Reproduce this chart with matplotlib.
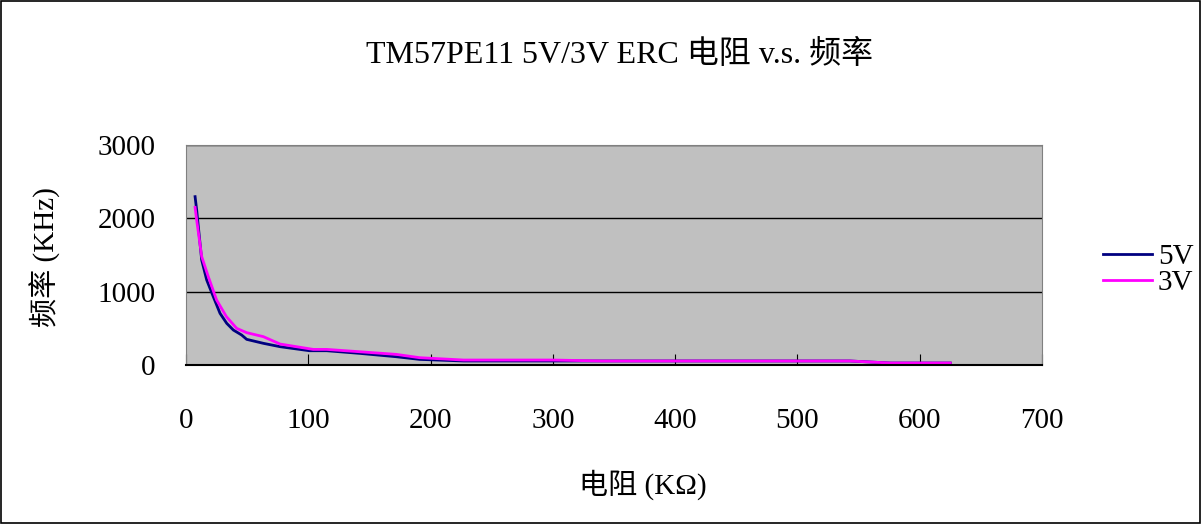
import matplotlib
matplotlib.use("Agg")
import matplotlib.pyplot as plt
from matplotlib.patches import Rectangle

plt.rcParams['font.family'] = ['Liberation Serif', 'Noto Sans CJK SC']

# resistance (K-ohm) vs frequency (KHz)
r_5v = [7.4, 8.7, 12.8, 16.9, 22.3, 27.8, 33.3, 38.7, 45.5, 49.6, 63.2, 76.9,
        101, 115, 142, 172, 191, 227, 300, 400, 500, 543, 576, 625]
f_5v = [2296, 2114, 1432, 1160, 932, 705, 568, 477, 409, 350, 296, 250,
        195, 195, 159, 113, 77, 55, 55, 55, 55, 55, 27, 27]

r_3v = [7.4, 8.7, 12.8, 18.2, 25, 33, 41.4, 49.6, 63.2, 76.9,
        104, 115, 142, 172, 191, 227, 300, 340, 400, 500, 543, 576, 625]
f_3v = [2150, 1978, 1480, 1205, 887, 660, 500, 441, 387, 286,
        213, 213, 181, 145, 100, 68, 68, 55, 55, 55, 55, 27, 27]

x_ticks = [0, 100, 200, 300, 400, 500, 600, 700]
y_ticks = [0, 1000, 2000, 3000]

fs = 21

fig = plt.figure(figsize=(12.01, 5.24), dpi=100)
fig.patches.append(Rectangle((0.0008, 0.001), 0.998, 0.997, transform=fig.transFigure,
                             fill=False, edgecolor='black', linewidth=1.2))

ax = fig.add_axes([0.1549, 0.3034, 0.7127, 0.4198])
ax.set_facecolor('#C0C0C0')

l5, = ax.plot(r_5v, f_5v, color='#000080', linewidth=2, label='5V')
l3, = ax.plot(r_3v, f_3v, color='#FF00FF', linewidth=2, label='3V')

ax.set_xlim(0, 700)
ax.set_ylim(0, 3000)
ax.set_xticks(x_ticks)
ax.set_yticks(y_ticks)
ax.tick_params(axis='x', direction='in', length=8, pad=31, labelsize=fs)
ax.tick_params(axis='y', direction='out', length=0, pad=22, labelsize=fs)
ax.yaxis.grid(True, color='black', linewidth=1)
ax.set_axisbelow(True)

for side in ['top', 'right', 'left']:
    ax.spines[side].set_color('#808080')
ax.spines['bottom'].set_color('black')
ax.spines['bottom'].set_linewidth(1.5)

fig.text(0.516, 0.895, 'TM57PE11 5V/3V ERC 电阻 v.s. 频率', ha='center', va='center', fontsize=23)
fig.text(0.535, 0.075, '电阻 (KΩ)', ha='center', va='center', fontsize=fs)
fig.text(0.038, 0.51, '频率 (KHz)', ha='center', va='center', rotation=90, fontsize=fs)

fig.legend(handles=[l5, l3], loc='center left', bbox_to_anchor=(0.918, 0.485),
           frameon=False, fontsize=fs, handlelength=1.7, handletextpad=0.2,
           labelspacing=0.0, borderpad=0, borderaxespad=0)

fig.savefig('out.png', dpi=100)
